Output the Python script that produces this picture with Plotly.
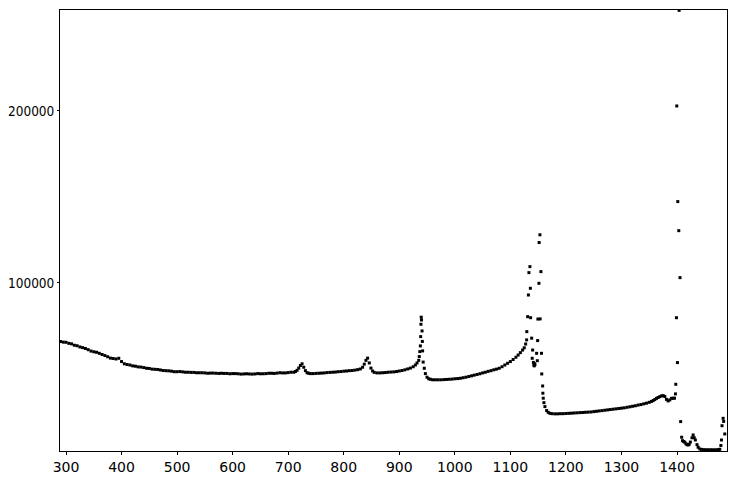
import plotly.graph_objects as go

# Spectrum (x = wavelength/shift units, y = counts)
x_vals = [
    290, 295, 300, 305, 310, 315, 320, 325, 330, 335, 340, 345, 350, 355, 360, 365, 370, 375, 380, 385,
    390, 395, 400, 405, 410, 415, 420, 425, 430, 435, 440, 445, 450, 455, 460, 465, 470, 475, 480, 485,
    490, 495, 500, 505, 510, 515, 520, 525, 530, 535, 540, 545, 550, 555, 560, 565, 570, 575, 580, 585,
    590, 595, 600, 605, 610, 615, 620, 625, 630, 635, 640, 645, 650, 655, 660, 665, 670, 675, 680, 685,
    690, 695, 700, 705, 710, 713, 716, 719, 722, 725, 728, 731, 734, 737, 740, 745, 750, 755, 760, 765,
    770, 775, 780, 785, 790, 795, 800, 805, 810, 815, 820, 825, 830, 834, 837, 840, 843, 846, 849, 852,
    855, 860, 865, 870, 875, 880, 885, 890, 895, 900, 905, 910, 915, 920, 925, 929, 932, 935, 936, 937,
    938, 938.5, 939, 939.5, 940, 941, 941.5, 942, 943, 945, 947, 950, 953, 956, 960, 965, 970, 975, 980,
    985, 990, 995, 1000, 1005, 1010, 1015, 1020, 1025, 1030, 1035, 1040, 1045, 1050, 1055, 1060, 1065,
    1070, 1075, 1080, 1085, 1090, 1095, 1100, 1105, 1110, 1114, 1118, 1122, 1125, 1127.5,
    1129.3, 1129.6, 1131.1, 1132.5, 1133.4, 1135.2, 1136.0, 1136.5, 1138.3, 1139.3, 1140.1, 1141.5,
    1142.3, 1143.0, 1143.6, 1144.2, 1147.3, 1148.5, 1149.1, 1149.6, 1151.4, 1151.8, 1153.2, 1153.6,
    1155.0, 1156.0, 1156.5, 1158.1, 1158.5, 1159.2, 1160.4, 1162.2, 1165.3, 1168, 1171.2,
    1175, 1180, 1185, 1190, 1195, 1200, 1205, 1210, 1215, 1220, 1225, 1230, 1235, 1240, 1245, 1250,
    1255, 1260, 1265, 1270, 1275, 1280, 1285, 1290, 1295, 1300, 1305, 1310, 1315, 1320, 1325, 1330,
    1335, 1340, 1345, 1350, 1354, 1357, 1360, 1363, 1366, 1369, 1372, 1375, 1378, 1381, 1384, 1387,
    1390, 1393, 1395.5,
    1397.2, 1397.8, 1399.0, 1399.6, 1400.8, 1401.4, 1403.2, 1403.8, 1405.4, 1406.6, 1408.4,
    1410, 1412, 1414, 1416, 1418, 1420, 1422, 1424, 1427, 1429, 1431, 1433, 1436, 1438, 1441, 1444,
    1448, 1452, 1456, 1460, 1464, 1468, 1472, 1475, 1477, 1479, 1480, 1481, 1483, 1484, 1486,
]

y_vals = [
    66000, 65600, 65500, 64900, 64600, 63800, 63500, 62800, 62400, 61900, 61200, 60400, 60000, 59700, 59100, 58400, 57800, 57100, 56300, 56100,
    55800, 56200, 54300, 53000, 52600, 52300, 51800, 51600, 51200, 51100, 50800, 50400, 50300, 49900, 49800, 49700, 49400, 49100, 49000, 48900,
    48700, 48400, 48400, 48500, 48300, 48100, 48100, 48000, 48000, 47800, 47800, 47800, 47700, 47500, 47600, 47600, 47500, 47400, 47500, 47400,
    47400, 47200, 47300, 47300, 47200, 47000, 47100, 47200, 47100, 47000, 47100, 47300, 47200, 47200, 47300, 47500, 47500, 47400, 47600, 47800,
    47700, 47700, 47900, 48100, 48100, 48500, 49200, 50500, 52000, 53000, 51000, 49000, 47800, 47500, 47300, 47300, 47400, 47500, 47600, 47700,
    47900, 48000, 48100, 48200, 48400, 48500, 48700, 48800, 49000, 49100, 49300, 49600, 50000, 51000, 52800, 55000, 56300, 53500, 50500, 48800,
    48000, 47700, 47700, 47800, 47900, 48100, 48200, 48300, 48500, 48800, 49100, 49500, 50000, 50500, 51300, 52300, 53500, 55000, 57200, 60100,
    63400, 68800, 76000, 80100, 78500, 72100, 66000, 60500, 54000, 50400, 47300, 45200, 44300, 44000, 43700, 43700, 43700, 43700, 43800,
    43900, 44000, 44100, 44300, 44400, 44600, 44900, 45200, 45600, 46000, 46400, 46800, 47200, 47700, 48100, 48600, 49000,
    49500, 49900, 50400, 51300, 52300, 53300, 54300, 55500, 56800, 58100, 59500, 61000, 62300, 64500,
    66900, 71700, 80400, 93000, 106000, 109500, 96900, 79800, 67900, 56200, 61000, 53800,
    52300, 51800, 53000, 52500, 59100, 54800, 66500, 79000, 99800, 123500, 128000, 79100,
    106600, 59100, 47100, 40100, 35900, 33000, 30400, 28100, 25800, 24800, 24200,
    24000, 23900, 23900, 24000, 24000, 24100, 24200, 24300, 24400, 24500, 24600, 24700, 24800, 24900, 25000, 25200,
    25400, 25600, 25800, 26000, 26200, 26400, 26600, 26800, 27000, 27200, 27400, 27700, 28000, 28300, 28600, 29000,
    29300, 29700, 30100, 30600, 31100, 31600, 32200, 32900, 33400, 33900, 34300, 34500, 34000, 32300, 31400, 32000,
    32900, 33000, 33000,
    35500, 41100, 79800, 202900, 53700, 147300, 130400, 258500, 103100, 19400, 10300,
    8300, 7800, 7400, 6500, 6000, 5800, 6200, 7500, 10000, 11600, 10000, 8700, 6000, 4500, 3500, 3200,
    3100, 3000, 3000, 3000, 3000, 3000, 3000, 3100, 3300, 5500, 8700, 17000, 21300, 19500, 12200,
]

x_tick_vals = [300, 400, 500, 600, 700, 800, 900, 1000, 1100, 1200, 1300, 1400]
x_tick_text = ["300", "400", "500", "600", "700", "800", "900", "1000", "1100", "1200", "1300", "1400"]
y_tick_vals = [100000, 200000]
y_tick_text = ["100000", "200000"]

fig = go.Figure(
    go.Scatter(
        x=x_vals,
        y=y_vals,
        mode="markers",
        marker=dict(color="black", size=3, symbol="square", line=dict(width=0)),
        showlegend=False,
    )
)

axis_common = dict(
    showgrid=False,
    zeroline=False,
    showline=True,
    linecolor="black",
    linewidth=1,
    mirror=True,
    ticks="outside",
    tickcolor="black",
    automargin=False,
)

fig.update_xaxes(
    range=[289.2, 1490],
    tickvals=x_tick_vals,
    ticktext=x_tick_text,
    ticklen=3,
    tickfont=dict(family="DejaVu Sans", size=14, color="black"),
    **axis_common,
)
fig.update_yaxes(
    range=[2300, 258700],
    tickvals=y_tick_vals,
    ticktext=y_tick_text,
    ticklen=2,
    tickfont=dict(family="DejaVu Sans Condensed", size=13.5, color="black"),
    **axis_common,
)

# page body adds an 8 px margin, so the figure is sized/offset to compensate
fig.update_layout(
    width=728,
    height=471,
    margin=dict(l=52, r=9, t=2, b=28),
    paper_bgcolor="white",
    plot_bgcolor="white",
)

fig.write_html("out.html")
